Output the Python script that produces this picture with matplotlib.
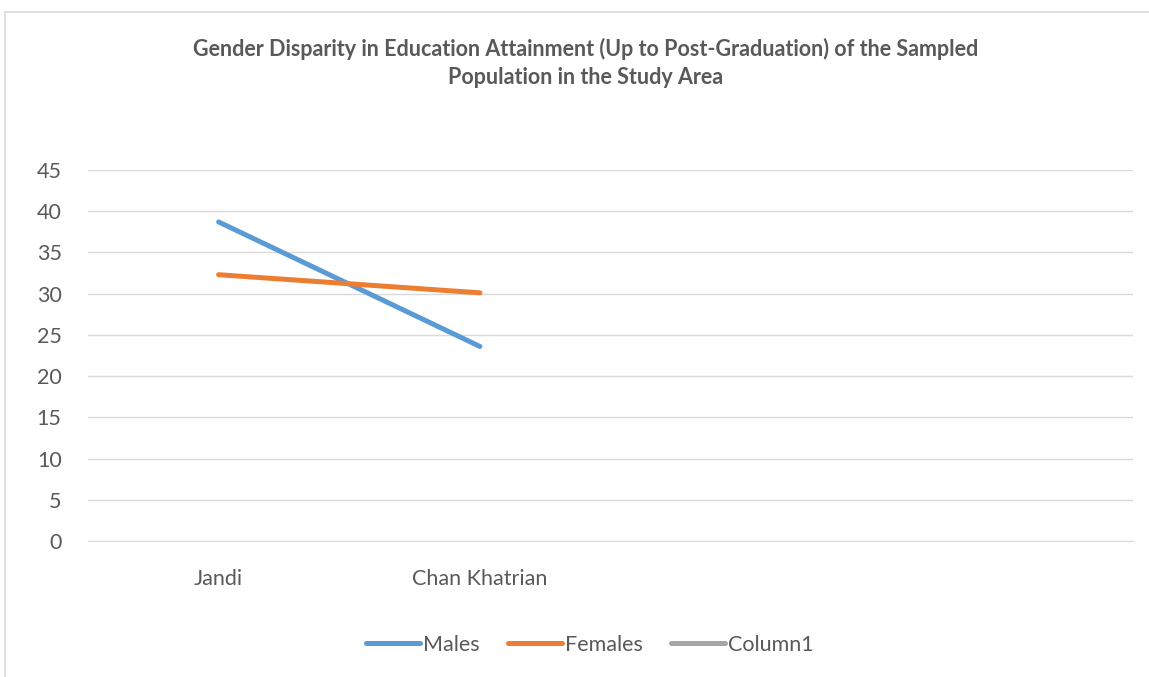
import numpy as np
import matplotlib.pyplot as plt
from matplotlib.patches import Rectangle

plt.rcParams['font.family'] = ['Lato', 'DejaVu Sans']

# Data
categories = ["Jandi", "Chan Khatrian", "", ""]
males = [38.7, 23.6, np.nan, np.nan]
females = [32.3, 30.1, np.nan, np.nan]
column1 = [np.nan, np.nan, np.nan, np.nan]

W, H = 1149, 677
fig = plt.figure(figsize=(W / 100, H / 100), dpi=100)

# chart frame
fig.patches.append(Rectangle((5 / W, -0.01), 1.02, (H - 12) / H + 0.01,
                             transform=fig.transFigure, fill=False,
                             edgecolor="#d9d9d9", linewidth=1.2))

ax = fig.add_axes([88 / W, (H - 541) / H, (1133 - 88) / W, (541 - 170) / H])

x = np.arange(len(categories))
ax.plot(x, males, color="#5b9bd5", linewidth=3.6, solid_capstyle="round", label="Males")
ax.plot(x, females, color="#ed7d31", linewidth=3.6, solid_capstyle="round", label="Females")
ax.plot(x, column1, color="#a5a5a5", linewidth=3.6, solid_capstyle="round", label="Column1")

ax.set_xlim(-0.5, len(categories) - 0.5)
ax.set_ylim(0, 45)
ax.set_yticks(range(0, 50, 5))
ax.set_xticks(x)
ax.set_xticklabels(categories)
ax.tick_params(axis="both", length=0, labelsize=15.5, colors="#595959")
ax.tick_params(axis="x", pad=20)
ax.tick_params(axis="y", pad=19)
ax.grid(axis="y", color="#d9d9d9", linewidth=1)
ax.set_axisbelow(True)
for s in ["top", "right", "left"]:
    ax.spines[s].set_visible(False)
ax.spines["bottom"].set_color("#d9d9d9")

fig.text(586 / W, 1 - 63 / H,
         "Gender Disparity in Education Attainment (Up to Post-Graduation) of the Sampled\nPopulation in the Study Area",
         ha="center", va="center", fontsize=15.5, fontweight="bold", color="#595959", linespacing=1.45)

fig.legend(loc="center", bbox_to_anchor=(590 / W, 1 - 645 / H), ncol=3, frameon=False,
           fontsize=15.5, labelcolor="#595959", handlelength=2.5, handletextpad=0.15, columnspacing=1.3)

fig.savefig("out.png", dpi=100)
